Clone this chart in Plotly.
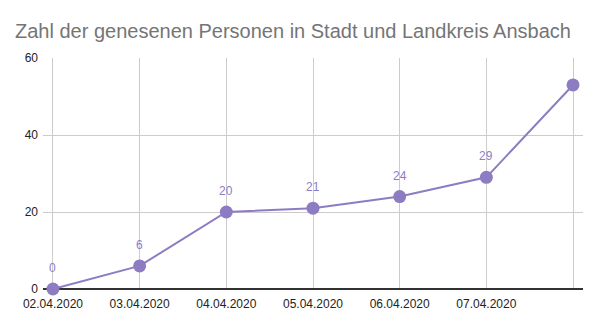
import plotly.graph_objects as go

dates = ["02.04.2020", "03.04.2020", "04.04.2020", "05.04.2020",
         "06.04.2020", "07.04.2020", "08.04.2020"]
values = [0, 6, 20, 21, 24, 29, 53]
tick_labels = ["02.04.2020", "03.04.2020", "04.04.2020", "05.04.2020",
               "06.04.2020", "07.04.2020", ""]
point_labels = ["0", "6", "20", "21", "24", "29", ""]

purple = "#8e7cc3"
x_idx = list(range(len(dates)))

fig = go.Figure()
fig.add_trace(go.Scatter(
    x=x_idx, y=values, mode="lines+markers",
    line=dict(color=purple, width=2),
    marker=dict(color=purple, size=13),
    cliponaxis=False, hoverinfo="skip", showlegend=False,
))

for xi, v, lab in zip(x_idx, values, point_labels):
    if lab:
        fig.add_annotation(x=xi, y=v, text=lab, showarrow=False,
                           yshift=21, yanchor="middle",
                           font=dict(color=purple, size=12,
                                     family="Liberation Sans, Arial"))

fig.update_layout(
    width=600, height=326,
    margin=dict(l=43, r=17, t=58, b=37),
    paper_bgcolor="white", plot_bgcolor="white",
    font=dict(family="Liberation Sans, Arial", size=12, color="#222222"),
    title=dict(text="Zahl der genesenen Personen in Stadt und Landkreis Ansbach",
               x=0.025, xanchor="left", y=0.905, yanchor="middle",
               font=dict(size=20, color="#757575", family="Liberation Sans, Arial")),
    xaxis=dict(
        range=[-0.115, 6.115], tickvals=x_idx, ticktext=tick_labels,
        showgrid=True, gridcolor="#cccccc", gridwidth=1,
        zeroline=False, showline=False, ticks="", ticklabelstandoff=6,
        tickfont=dict(size=12, color="#222222"),
    ),
    yaxis=dict(
        range=[0, 60], tickvals=[0, 20, 40, 60],
        showgrid=True, gridcolor="#cccccc", gridwidth=1,
        zeroline=True, zerolinecolor="#333333", zerolinewidth=1.5,
        showline=False, ticks="", ticklabelstandoff=4,
        tickfont=dict(size=12, color="#222222"),
    ),
)

fig.write_html("out.html")
